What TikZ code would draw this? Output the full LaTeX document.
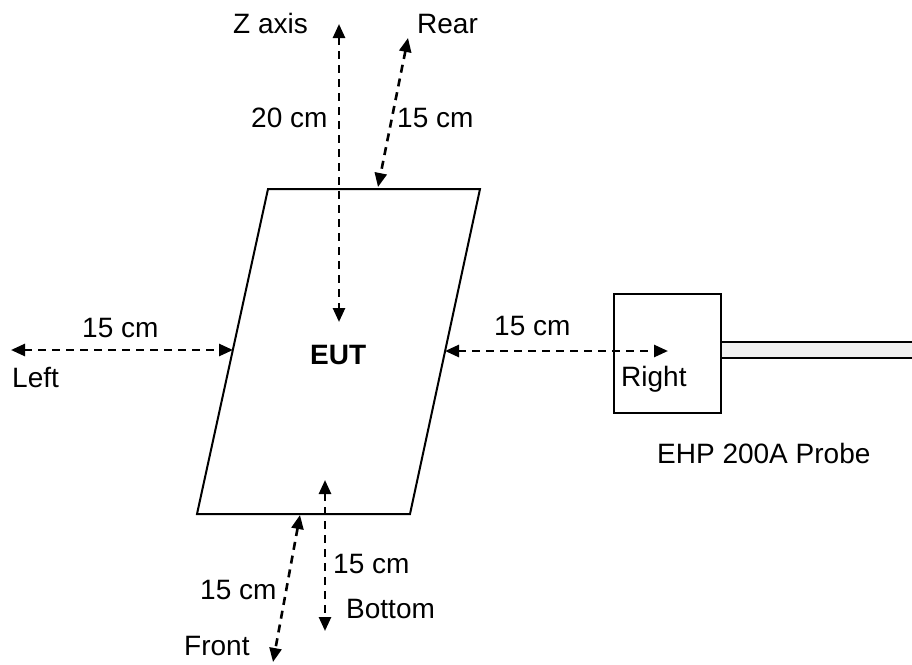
\documentclass[tikz,border=0pt]{standalone}
\usepackage{fontspec}
\setmainfont{Liberation Sans}
\usetikzlibrary{arrows.meta}
\begin{document}
\begin{tikzpicture}[x=1pt,y=-1pt,
  lbl/.style={font=\fontsize{28}{32}\selectfont, inner sep=0pt, anchor=base west},
  dim/.style={line width=2.6pt, dash pattern=on 8pt off 6pt, {Triangle[length=14pt,width=12pt]}-{Triangle[length=14pt,width=12pt]}},
  edge/.style={line width=2pt}]
\useasboundingbox (0,0) rectangle (912,664);
% EUT parallelogram corners
\coordinate (tl) at (268,189);
\coordinate (tr) at (480,189);
\coordinate (br) at (410,514);
\coordinate (bl) at (197,514);
\draw[edge, line join=miter] (tl) -- (tr) -- (br) -- (bl) -- cycle;
\node[lbl, font=\fontsize{28}{32}\selectfont\bfseries] (eut) at (310,364) {EUT};
% probe
\node[draw, line width=2pt, minimum width=107pt, minimum height=119pt, inner sep=0pt] (probe) at (667.5,353.5) {};
\coordinate (tubeA) at (721,342);
\coordinate (tubeB) at (913,358);
\filldraw[fill=black!6, line width=2.2pt] (tubeA) rectangle (tubeB);
\node[lbl] (ehp) at (657,463) {EHP 200A Probe};
% Z axis
\coordinate (z1) at (339,24);
\coordinate (z2) at (339,322);
\draw[dim] (z1) -- (z2);
\node[lbl] (zlab) at (233,33) {Z axis};
\node[lbl] (z20) at (251,127) {20 cm};
% Rear
\coordinate (r1) at (408,38);
\coordinate (r2) at (378,187);
\draw[dim] (r1) -- (r2);
\node[lbl] (rear) at (417,33) {Rear};
\node[lbl] (r15) at (397,127) {15 cm};
% Left
\coordinate (l1) at (11,350);
\coordinate (l2) at (233,350);
\draw[dim] (l1) -- (l2);
\node[lbl] (l15) at (82,337) {15 cm};
\node[lbl] (left) at (12,387) {Left};
% Right
\coordinate (ri1) at (445,351);
\coordinate (ri2) at (668,351);
\draw[dim] (ri1) -- (ri2);
\node[lbl] (ri15) at (494,335) {15 cm};
\node[lbl] (right) at (621,386) {Right};
% Bottom
\coordinate (b1) at (325,480);
\coordinate (b2) at (325,631);
\draw[dim] (b1) -- (b2);
\node[lbl] (b15) at (333,573) {15 cm};
\node[lbl] (bottom) at (346,618) {Bottom};
% Front
\coordinate (f1) at (300,515);
\coordinate (f2) at (273,662);
\draw[dim] (f1) -- (f2);
\node[lbl] (f15) at (200,599) {15 cm};
\node[lbl] (front) at (184,655) {Front};
\end{tikzpicture}
\end{document}
